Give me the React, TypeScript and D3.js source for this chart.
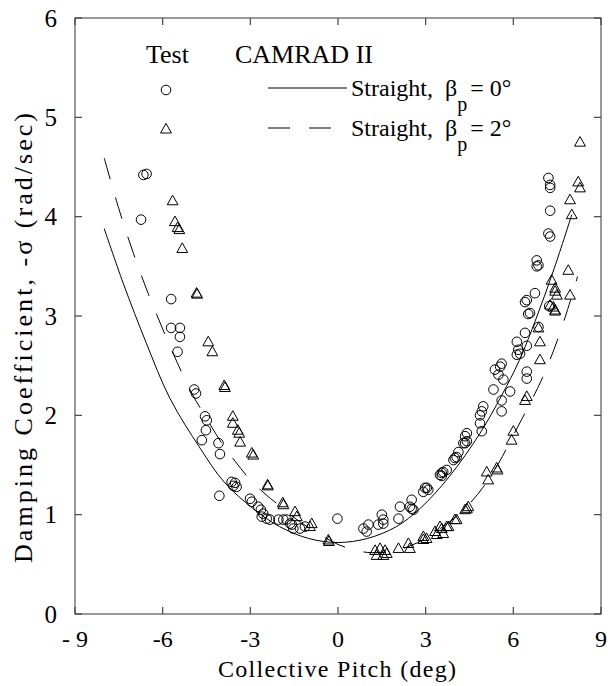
import React from 'react';
import * as d3 from 'd3';

const xTicks = [-9, -6, -3, 0, 3, 6, 9];
const xTickLabels = ['- 9', '-6', '-3', '0', '3', '6', '9'];
const yTicks = [0, 1, 2, 3, 4, 5, 6];
const yTickLabels = ['0', '1', '2', '3', '4', '5', '6'];

// Test data, beta_p = 0 (circles)
const testStraight0: [number, number][] = [
  [-6.66, 4.42], [-6.55, 4.43], [-6.74, 3.97], [-5.71, 3.17], [-5.71, 2.88], [-5.41, 2.88], [-5.41, 2.79], [-5.49, 2.64], [-4.92, 2.26], [-4.86, 2.22],
  [-4.55, 1.99], [-4.49, 1.95], [-4.52, 1.85], [-4.66, 1.75], [-4.09, 1.72], [-4.04, 1.61],
  [-3.64, 1.33], [-3.52, 1.32], [-3.47, 1.28], [-3.58, 1.29], [-4.06, 1.19],
  [-3.01, 1.16], [-2.95, 1.13], [-2.73, 1.08], [-2.64, 1.05], [-2.56, 1.01], [-2.61, 0.98], [-2.44, 0.96], [-2.33, 0.95], [-2.04, 0.95], [-1.76, 0.95],
  [-1.87, 0.95], [-1.64, 0.91], [-1.53, 0.86], [-1.58, 0.90], [-1.30, 0.86], [-1.13, 0.88],
  [-0.02, 0.96],
  [0.87, 0.86], [1.04, 0.90], [0.98, 0.83], [1.38, 0.90], [1.55, 0.95], [1.55, 0.91], [1.50, 1.00], [2.07, 0.96], [2.12, 1.08], [2.46, 1.08], [2.52, 1.15], [2.52, 1.06], [2.58, 1.05],
  [2.92, 1.23], [3.09, 1.25], [3.04, 1.27], [2.98, 1.27], [3.49, 1.40], [3.60, 1.43], [3.55, 1.42], [3.72, 1.45], [3.55, 1.39],
  [4.00, 1.57], [4.06, 1.58], [3.95, 1.55], [4.12, 1.63], [4.29, 1.72], [4.35, 1.79], [4.41, 1.82], [4.35, 1.72], [4.41, 1.74],
  [4.86, 1.92], [4.92, 1.84], [4.86, 2.00], [4.92, 2.04], [4.97, 2.09],
  [5.32, 2.26], [5.37, 2.46], [5.49, 2.41], [5.55, 2.49], [5.60, 2.52], [5.66, 2.36], [5.60, 2.15], [5.60, 2.04], [5.89, 2.24],
  [6.12, 2.61], [6.17, 2.66], [6.23, 2.62], [6.12, 2.74], [6.46, 2.70], [6.40, 2.83], [6.46, 2.44], [6.46, 2.37], [6.86, 2.89],
  [6.51, 3.02], [6.40, 3.14], [6.57, 3.03], [6.46, 3.16], [6.74, 3.23],
  [6.80, 3.56], [6.86, 3.51], [6.80, 3.50],
  [7.20, 4.39], [7.26, 4.32], [7.26, 4.29], [7.26, 4.06], [7.20, 3.83], [7.26, 3.80], [7.23, 3.10],
];

// Test data, beta_p = 2 (triangles)
const testStraight2: [number, number][] = [
  [-5.66, 4.16], [-5.58, 3.95], [-5.49, 3.89], [-5.43, 3.87], [-5.33, 3.68], [-4.84, 3.23], [-4.82, 3.22], [-4.44, 2.74], [-4.30, 2.64], [-3.89, 2.30], [-3.87, 2.28],
  [-3.60, 1.99], [-3.60, 1.92], [-3.43, 1.85], [-3.38, 1.82], [-3.35, 1.73], [-2.95, 1.62], [-2.90, 1.60],
  [-2.41, 1.30], [-2.40, 1.29], [-1.89, 1.12], [-1.87, 1.10], [-1.47, 1.03], [-1.41, 0.98], [-0.90, 0.91], [-0.96, 0.88], [-0.33, 0.745], [-0.31, 0.73],
  [1.27, 0.64], [1.32, 0.59], [1.44, 0.66], [1.61, 0.64], [1.55, 0.59], [1.67, 0.61], [2.07, 0.66], [2.41, 0.71], [2.46, 0.66],
  [2.92, 0.78], [3.03, 0.76], [2.92, 0.75], [3.32, 0.83], [3.38, 0.80], [3.60, 0.81], [3.55, 0.86], [3.49, 0.88], [3.72, 0.88], [3.78, 0.88],
  [4.00, 0.95], [4.06, 0.95], [4.35, 1.05], [4.46, 1.08], [4.41, 1.06],
  [5.09, 1.43], [5.14, 1.35], [5.43, 1.47], [5.46, 1.45],
  [5.94, 1.75], [6.00, 1.84], [6.40, 2.15], [6.46, 2.19],
  [6.91, 2.56], [6.91, 2.74], [6.86, 2.88], [7.26, 3.11], [7.43, 3.06], [7.37, 3.09], [7.43, 3.05], [7.31, 3.36], [7.43, 3.28], [7.43, 3.25], [7.49, 3.21],
  [7.94, 3.21], [7.88, 3.46], [8.00, 4.02], [7.94, 4.17], [8.22, 4.35], [8.28, 4.29], [8.28, 4.75],
];

// CAMRAD II, beta_p = 0 (solid)
const camradStraight0: [number, number][] = [
  [-8.0, 3.88], [-7.35, 3.33], [-6.55, 2.72], [-5.75, 2.17], [-4.72, 1.67], [-3.9, 1.33], [-2.9, 1.06], [-2.0, 0.88], [-1.0, 0.76],
  [0.0, 0.72], [1.0, 0.76], [2.0, 0.88], [2.8, 1.06], [3.8, 1.38], [4.86, 1.82], [5.6, 2.2], [6.2, 2.55], [6.8, 2.99], [7.4, 3.48], [8.0, 4.02],
];

// CAMRAD II, beta_p = 2 (dashed)
const camradStraight2: [number, number][] = [
  [-8.0, 4.59], [-7.5, 4.08], [-7.0, 3.63], [-6.5, 3.23], [-6.0, 2.87], [-5.5, 2.53], [-5.0, 2.22], [-4.5, 1.97], [-4.0, 1.73], [-3.5, 1.53],
  [-3.0, 1.35], [-2.5, 1.21], [-2.0, 1.09], [-1.5, 0.97], [-1.0, 0.87], [-0.5, 0.78], [0.0, 0.70], [0.5, 0.65], [1.0, 0.62], [1.5, 0.62],
  [2.0, 0.64], [2.5, 0.69], [3.0, 0.76], [3.5, 0.86], [4.0, 0.97], [4.5, 1.11], [5.0, 1.29], [5.5, 1.52], [6.0, 1.80], [6.5, 2.08],
  [7.0, 2.38], [7.5, 2.75], [8.0, 3.20], [8.2, 3.40],
];

const SERIF = '"Liberation Serif", "DejaVu Serif", serif';

function Tri({ cx, cy }: { cx: number; cy: number }) {
  return <path d={`M${cx},${cy - 5.6}L${cx + 5.4},${cy + 4}L${cx - 5.4},${cy + 4}Z`} fill="none" stroke="#000" strokeWidth={1} />;
}

export default function App() {
  const W = 608, H = 686;
  const x = d3.scaleLinear().domain([-9, 9]).range([75, 601]);
  const y = d3.scaleLinear().domain([0, 6]).range([614, 18]);
  const line = d3.line<[number, number]>().x(d => x(d[0])).y(d => y(d[1])).curve(d3.curveCatmullRom.alpha(0.5));
  const [x0, x1] = x.range();
  const [y0, y1] = y.range();
  const tickLen = 7;
  const txt = { fontFamily: SERIF, fill: '#000' } as React.CSSProperties;

  return (
    <svg width={W} height={H} viewBox={`0 0 ${W} ${H}`} style={{ position: 'absolute', left: 0, top: 0, background: '#fff' }}>
      <rect x={0} y={0} width={W} height={H} fill="#fff" />
      {/* curves */}
      <path d={line(camradStraight0) || ''} fill="none" stroke="#000" strokeWidth={1} />
      <path d={line(camradStraight2) || ''} fill="none" stroke="#000" strokeWidth={1} strokeDasharray="22 19" />
      {/* markers */}
      {testStraight0.map((d, i) => (
        <circle key={'c' + i} cx={x(d[0])} cy={y(d[1])} r={4.8} fill="none" stroke="#000" strokeWidth={1} />
      ))}
      {testStraight2.map((d, i) => (
        <Tri key={'t' + i} cx={x(d[0])} cy={y(d[1])} />
      ))}
      {/* frame */}
      <rect x={x0} y={y1} width={x1 - x0} height={y0 - y1} fill="none" stroke="#555" strokeWidth={1.2} />
      {/* ticks */}
      {xTicks.map(t => (
        <g key={'xt' + t}>
          <line x1={x(t)} x2={x(t)} y1={y0} y2={y0 - tickLen} stroke="#444" strokeWidth={1.2} />
          <line x1={x(t)} x2={x(t)} y1={y1} y2={y1 + tickLen} stroke="#444" strokeWidth={1.2} />
        </g>
      ))}
      {yTicks.map(t => (
        <g key={'yt' + t}>
          <line x1={x0} x2={x0 + tickLen} y1={y(t)} y2={y(t)} stroke="#444" strokeWidth={1.2} />
          <line x1={x1} x2={x1 - tickLen} y1={y(t)} y2={y(t)} stroke="#444" strokeWidth={1.2} />
        </g>
      ))}
      {/* tick labels */}
      {xTicks.map((t, i) => (
        <text key={'xl' + t} x={x(t)} y={647} fontSize={24} textAnchor="middle" style={{ ...txt, whiteSpace: 'pre' }}>{xTickLabels[i]}</text>
      ))}
      {yTicks.map((t, i) => (
        <text key={'yl' + t} x={57} y={y(t) + 8.5} fontSize={25} textAnchor="end" style={txt}>{yTickLabels[i]}</text>
      ))}
      {/* axis titles */}
      <text x={337} y={677} fontSize={24} textAnchor="middle" textLength={238} lengthAdjust="spacing" style={txt}>Collective Pitch (deg)</text>
      <text transform="translate(32,338) rotate(-90)" fontSize={26} textAnchor="middle" textLength={450} lengthAdjust="spacing" style={txt}>Damping Coefficient, -σ (rad/sec)</text>
      {/* legend */}
      <text x={146} y={63} fontSize={26} style={txt}>Test</text>
      <text x={235} y={63} fontSize={26} style={txt}>CAMRAD II</text>
      <circle cx={166} cy={90} r={4.8} fill="none" stroke="#000" strokeWidth={1} />
      <Tri cx={166} cy={129} />
      <line x1={268} x2={347} y1={88} y2={88} stroke="#000" strokeWidth={1} />
      <line x1={268} x2={350} y1={128} y2={128} stroke="#000" strokeWidth={1} strokeDasharray="22 19" />
      <text x={351} y={96} fontSize={24} style={{ ...txt, whiteSpace: 'pre' }}>
        {'Straight,  β'}
        <tspan fontSize={20} dy={15}>p</tspan>
        <tspan dy={-15} dx={3}>{'= 0°'}</tspan>
      </text>
      <text x={351} y={136} fontSize={24} style={{ ...txt, whiteSpace: 'pre' }}>
        {'Straight,  β'}
        <tspan fontSize={20} dy={15}>p</tspan>
        <tspan dy={-15} dx={3}>{'= 2°'}</tspan>
      </text>
    </svg>
  );
}
